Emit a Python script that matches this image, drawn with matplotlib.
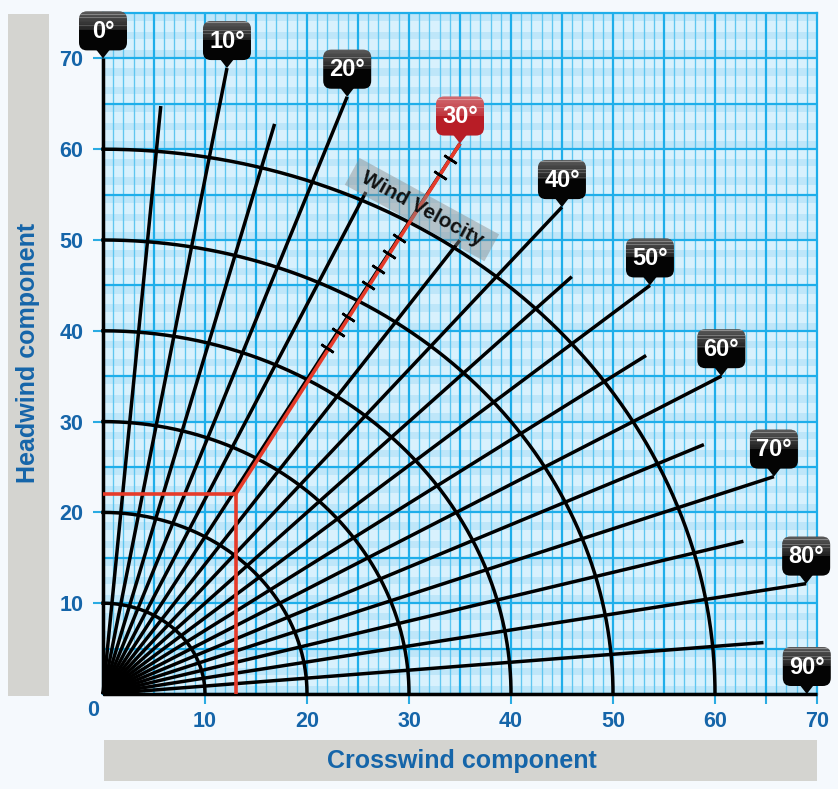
import numpy as np
import matplotlib
matplotlib.use('Agg')
import matplotlib.pyplot as plt
import matplotlib.transforms as mtransforms
from matplotlib.patches import FancyBboxPatch, Polygon, Rectangle

plt.rcParams['font.family'] = ['Liberation Sans', 'DejaVu Sans']

# ---------------- data ----------------
ray_angles = [0, 5, 10, 15, 20, 25, 30, 35, 40, 45, 50, 55, 60, 65, 70, 75, 80, 85, 90]
ray_lengths = [70, 65, 70, 65, 70, 61, 70, 61, 70, 65, 70, 65, 70, 65, 70, 65, 70, 65, 70]
arc_radii = [10, 20, 30, 40, 50, 60]
label_angles = [0, 10, 20, 30, 40, 50, 60, 70, 80, 90]
label_radii = [70, 70, 70, 70, 70, 70, 70, 70, 70, 69]
label_texts = ['0°', '10°', '20°', '30°', '40°', '50°', '60°', '70°', '80°', '90°']
highlight_angle = 30
velocity_ticks = [44, 46, 48, 52, 54, 56, 58, 66, 68]
example_crosswind = 13
example_headwind = 22
x_ticks = [10, 20, 30, 40, 50, 60, 70]
y_ticks = [10, 20, 30, 40, 50, 60, 70]
x_tick_labels = ['10', '20', '30', '40', '50', '60', '70']
y_tick_labels = ['10', '20', '30', '40', '50', '60', '70']

BLUE_TXT = '#1565a9'
GRID_MAJ = '#1eaeea'
GRID_MIN = '#5fc6f0'
TICK_C = '#2aabe2'

W, H = 838, 789
fig = plt.figure(figsize=(W / 100, H / 100), dpi=100)
fig.patch.set_facecolor('#f5f9fd')
ax = fig.add_axes([103 / W, 1 - 694 / H, (817 - 103) / W, (694 - 13) / H])
ax.set_xlim(0, 70)
ax.set_ylim(0, 75)
ax.set_facecolor('#d8f1fd')

# striped background
for n in range(0, 75, 2):
    ax.axhspan(n + 0.1, n + 0.9, color='#bee6f9', lw=0, zorder=0)
# grid
for xv in range(1, 70):
    if xv % 5:
        ax.axvline(xv, color=GRID_MIN, lw=0.95, zorder=1)
for xv in range(5, 70, 5):
    ax.axvline(xv, color=GRID_MAJ, lw=1.6, zorder=1)
for yv in range(5, 75, 5):
    ax.axhline(yv, color=GRID_MAJ, lw=1.6, zorder=1)
for s in ax.spines.values():
    s.set_color(GRID_MAJ)
    s.set_linewidth(1.6)

# ticks
ax.set_xticks(x_ticks)
ax.set_xticklabels(x_tick_labels)
ax.set_yticks(y_ticks)
ax.set_yticklabels(y_tick_labels)
ax.set_xticks([65], minor=True)
ax.tick_params(axis='both', which='both', length=7.5, width=1.5, color=TICK_C,
               labelcolor=BLUE_TXT, labelsize=15.5)
ax.tick_params(axis='x', pad=5)
ax.tick_params(axis='y', pad=6.5)
for lbl in ax.get_xticklabels() + ax.get_yticklabels():
    lbl.set_fontweight('bold')
ax.annotate('0', xy=(0, 0), xytext=(-10, -16), textcoords='offset pixels',
            ha='center', va='center', color=BLUE_TXT, fontsize=15.5,
            fontweight='bold', annotation_clip=False)

# arcs
theta = np.linspace(0, np.pi / 2, 300)
for r in arc_radii:
    ax.plot(r * np.sin(theta), r * np.cos(theta), color='black', lw=2.5,
            zorder=3, clip_on=False)
# rays
for a, L in zip(ray_angles, ray_lengths):
    t = np.radians(a)
    ax.plot([0, L * np.sin(t)], [0, L * np.cos(t)], color='black', lw=2.5,
            zorder=3, solid_capstyle='butt', clip_on=False)

# red example
RED = '#e63b2a'
th = np.radians(highlight_angle)
Lh = ray_lengths[ray_angles.index(highlight_angle)]
ax.plot([example_crosswind, example_crosswind], [0, example_headwind], color=RED,
        lw=2.6, zorder=4, solid_capstyle='butt')
ax.plot([0, example_crosswind], [example_headwind, example_headwind], color=RED,
        lw=2.6, zorder=4, solid_capstyle='butt', clip_on=False)
ax.plot([example_crosswind, Lh * np.sin(th)], [example_headwind, Lh * np.cos(th)],
        color=RED, lw=2.6, zorder=4, solid_capstyle='butt')

# velocity ticks perpendicular (screen) to the highlighted ray
fig.canvas.draw()
p0 = ax.transData.transform((0, 0))
p1 = ax.transData.transform((np.sin(th), np.cos(th)))
scr_ang = np.degrees(np.arctan2(p1[1] - p0[1], p1[0] - p0[0]))
vt = np.array(velocity_ticks, dtype=float)
ax.plot(vt * np.sin(th), vt * np.cos(th), ls='none', marker=(2, 2, scr_ang),
        ms=10.5, mew=1.8, color='black', zorder=5)

# wind velocity label
ax.text(31.27, 53.35, ' Wind Velocity ', rotation=-28.7, rotation_mode='anchor',
        ha='center', va='center', fontsize=15, fontweight='bold', color='#111111',
        bbox=dict(boxstyle='square,pad=0.28', fc='#8a8a8a', ec='none', alpha=0.45),
        zorder=6)

# callouts
for a, r, txt in zip(label_angles, label_radii, label_texts):
    t = np.radians(a)
    tx, ty = r * np.sin(t), r * np.cos(t)
    trans = mtransforms.Affine2D() + mtransforms.ScaledTranslation(tx, ty, ax.transData)
    base = '#b81d26' if a == highlight_angle else '#040404'
    body = FancyBboxPatch((-24, 8), 48, 39, boxstyle='round,pad=0,rounding_size=8',
                          transform=trans, fc=base, ec='none', zorder=10)
    fig.add_artist(body)
    ptr = Polygon([(-7, 9), (7, 9), (0, 0)], closed=True, transform=trans,
                  fc=base, ec='none', zorder=10)
    fig.add_artist(ptr)
    nstrip = 12
    y0, y1 = 28, 47
    for i in range(nstrip):
        ys = y0 + (y1 - y0) * i / nstrip
        alpha = 0.12 + 0.22 * i / (nstrip - 1)
        rect = Rectangle((-24, ys), 48, (y1 - y0) / nstrip + 0.3, transform=trans,
                         fc='white', ec='none', alpha=alpha, zorder=11)
        fig.add_artist(rect)
        rect.set_clip_path(body)
    fig.text(0, 27, txt, transform=trans, ha='center', va='center', color='white',
             fontsize=17, fontweight='bold', zorder=13)

# axis title boxes
fig.add_artist(Rectangle((8 / W, 1 - 696 / H), 41 / W, 682 / H, transform=fig.transFigure,
                         fc='#d4d4d0', ec='none', zorder=0))
fig.add_artist(Rectangle((104 / W, 8 / H), 713 / W, 41 / H, transform=fig.transFigure,
                         fc='#d4d4d0', ec='none', zorder=0))
fig.text(28.5 / W, 1 - 353 / H, 'Headwind component', rotation=90, ha='center',
         va='center', color=BLUE_TXT, fontsize=18, fontweight='bold', zorder=2)
fig.text(462 / W, 1 - 761 / H, 'Crosswind component', ha='center', va='center',
         color=BLUE_TXT, fontsize=18, fontweight='bold', zorder=2)

fig.savefig('out.png', dpi=100, facecolor=fig.get_facecolor())
